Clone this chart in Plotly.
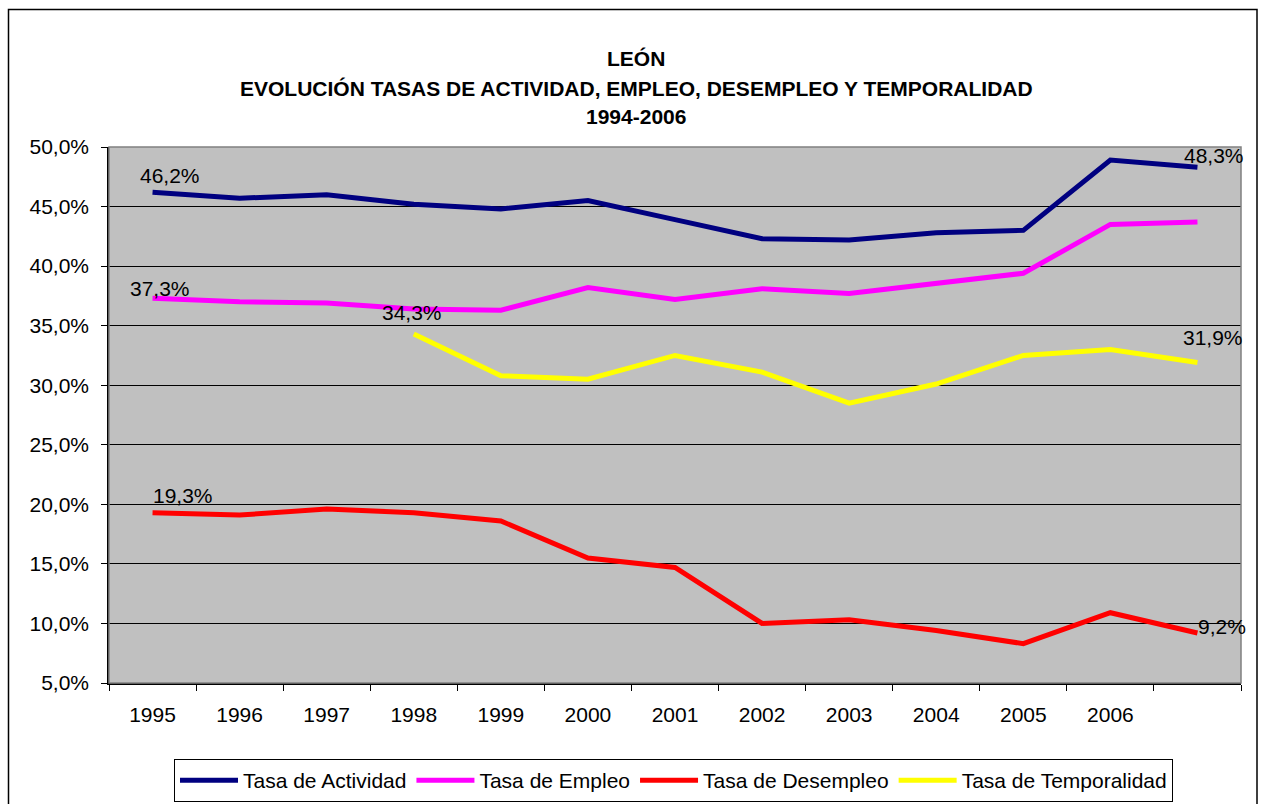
import plotly.graph_objects as go

# ---- data ----
years = ["1995", "1996", "1997", "1998", "1999", "2000", "2001", "2002",
         "2003", "2004", "2005", "2006", ""]
actividad = [46.2, 45.7, 46.0, 45.2, 44.8, 45.5, 43.9, 42.3, 42.2, 42.8, 43.0, 48.9, 48.3]
empleo = [37.3, 37.0, 36.9, 36.4, 36.3, 38.2, 37.2, 38.1, 37.7, 38.5, 39.4, 43.5, 43.7]
desempleo = [19.3, 19.1, 19.6, 19.3, 18.6, 15.5, 14.7, 10.0, 10.3, 9.4, 8.3, 10.9, 9.2]
temporalidad = [None, None, None, 34.3, 30.8, 30.5, 32.5, 31.1, 28.5, 30.1, 32.5, 33.0, 31.9]

series_names = ["Tasa de Actividad", "Tasa de Empleo", "Tasa de Desempleo", "Tasa de Temporalidad"]
series_colors = ["#000080", "#FF00FF", "#FF0000", "#FFFF00"]
title_lines = ["LEÓN",
               "EVOLUCIÓN TASAS DE ACTIVIDAD, EMPLEO, DESEMPLEO Y TEMPORALIDAD",
               "1994-2006"]

FONT = "Liberation Sans, Arial, sans-serif"
W, H = 1261, 804
ML, MT = 109, 147
PW, PH = 1132, 536
MR, MB = W - ML - PW, H - MT - PH


def px(xp):
    """page x pixel -> paper x"""
    return (xp - ML) / PW


def py(yp):
    """page y pixel -> paper y"""
    return (MT + PH - yp) / PH


xs = list(range(len(years)))
fig = go.Figure()
for name, vals, col in zip(series_names, [actividad, empleo, desempleo, temporalidad], series_colors):
    fig.add_trace(go.Scatter(x=xs, y=vals, mode="lines", name=name,
                             line=dict(color=col, width=5), connectgaps=False))


def fmt(v):
    return f"{v:.1f}%".replace(".", ",")


def first_idx(vals):
    return next(i for i, v in enumerate(vals) if v is not None)


annots = []
# data labels: (series values, index, xshift, yshift)
label_specs = [
    (actividad, first_idx(actividad), 17, 17),
    (actividad, len(actividad) - 1, 17, 12),
    (empleo, first_idx(empleo), 7, 10),
    (desempleo, first_idx(desempleo), 30, 17),
    (desempleo, len(desempleo) - 1, 25, 6),
    (temporalidad, first_idx(temporalidad), -2, 22),
    (temporalidad, len(temporalidad) - 1, 16, 25),
]
for vals, i, dx, dy in label_specs:
    annots.append(dict(x=xs[i], y=vals[i], xref="x", yref="y", text=fmt(vals[i]),
                       showarrow=False, xshift=dx, yshift=dy,
                       font=dict(family=FONT, size=21, color="black")))

for t, yc in zip(title_lines, [59, 88, 117]):
    annots.append(dict(x=px(636), y=py(yc), xref="paper", yref="paper",
                       text=f"<b>{t}</b>", showarrow=False, xanchor="center", yanchor="middle",
                       font=dict(family=FONT, size=21, color="black")))

shapes = [
    # outer chart frame
    dict(type="rect", xref="paper", yref="paper", x0=px(8.5), x1=px(1257), y0=py(9.5), y1=py(830),
         line=dict(color="black", width=1.5), fillcolor="rgba(0,0,0,0)", layer="below"),
    # plot area border (gray)
    dict(type="rect", xref="paper", yref="paper", x0=0, x1=1, y0=0, y1=1,
         line=dict(color="#808080", width=1.5), fillcolor="rgba(0,0,0,0)", layer="above"),
]

fig.update_layout(
    width=W, height=H,
    margin=dict(l=ML, r=MR, t=MT, b=MB, pad=0, autoexpand=False),
    paper_bgcolor="white", plot_bgcolor="#C0C0C0",
    separators=",.",
    font=dict(family=FONT, size=21, color="black"),
    showlegend=True,
    legend=dict(orientation="h", x=px(673.5), xanchor="center", y=py(759), yanchor="top",
                bgcolor="white", bordercolor="black", borderwidth=1,
                font=dict(family=FONT, size=21, color="black"), itemwidth=58,
                traceorder="normal"),
    annotations=annots,
    shapes=shapes,
)

fig.update_xaxes(
    range=[-0.5, len(years) - 0.5], tickmode="array", tickvals=xs, ticktext=years,
    ticks="", showgrid=False, zeroline=False,
    showline=True, linecolor="black", linewidth=1.5,
    tickfont=dict(family=FONT, size=21, color="black"),
    ticklabelstandoff=12,
    minor=dict(tickmode="array", tickvals=[i - 0.5 for i in range(len(years) + 1)],
               ticks="outside", ticklen=6, tickcolor="black", tickwidth=1, showgrid=False),
)
fig.update_yaxes(
    range=[5, 50], dtick=5, tick0=5, tickformat=".1f", ticksuffix="%",
    showgrid=True, gridcolor="black", gridwidth=1, zeroline=False,
    showline=True, linecolor="black", linewidth=1.5,
    ticks="outside", ticklen=6, tickcolor="black",
    tickfont=dict(family=FONT, size=21, color="black"),
    ticklabelstandoff=8,
)

fig.write_html("out.html", config={"displayModeBar": False},
               post_script="document.body.style.margin='0';document.body.style.overflow='hidden';")
